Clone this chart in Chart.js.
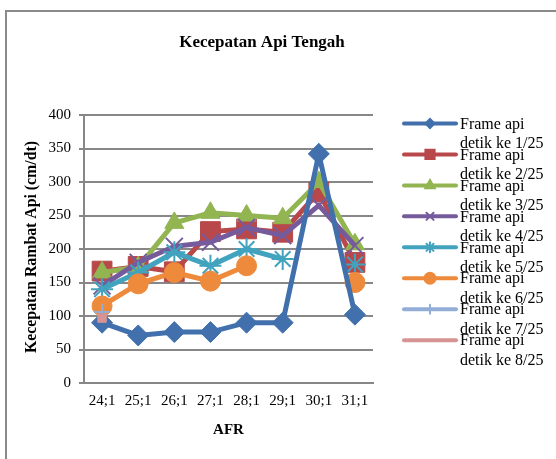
<!DOCTYPE html>
<html>
<head>
<meta charset="utf-8">
<script src="https://cdn.jsdelivr.net/npm/chart.js@4/dist/chart.umd.min.js"></script>
<style>
  html, body { margin: 0; padding: 0; background: #fff; }
  #wrap { position: relative; width: 556px; height: 459px; }
</style>
</head>
<body>
<div id="wrap"><canvas id="c" width="556" height="459"></canvas></div>
<script>
// ---- data ----
const categories = ['24;1', '25;1', '26;1', '27;1', '28;1', '29;1', '30;1', '31;1'];
const frame1 = [90, 71, 76, 76, 90, 90, 342, 102];
const frame2 = [167, 174, 166, 226, 230, 225, 285, 180];
const frame3 = [165, 173, 239, 254, 250, 246, 300, 207];
const frame4 = [145, 180, 204, 210, 232, 220, 265, 205];
const frame5 = [140, 165, 195, 175, 200, 185, null, 177];
const frame6 = [115, 148, 165, 152, 175, null, null, 150];
const frame7 = [106, null, null, null, null, null, null, null];
const frame8 = [97, null, null, null, null, null, null, null];
const seriesNames = [
  ['Frame api', 'detik ke 1/25'],
  ['Frame api', 'detik ke 2/25'],
  ['Frame api', 'detik ke 3/25'],
  ['Frame api', 'detik ke 4/25'],
  ['Frame api', 'detik ke 5/25'],
  ['Frame api', 'detik ke 6/25'],
  ['Frame api', 'detik ke 7/25'],
  ['Frame api', 'detik ke 8/25']
];
const yTicks = [0, 50, 100, 150, 200, 250, 300, 350, 400];
const chartTitle = 'Kecepatan Api Tengah';
const xTitle = 'AFR';
const yTitle = 'Kecepatan Rambat Api (cm/dt)';

// ---- styles ----
const FONT = "'Liberation Serif', 'Times New Roman', serif";
const colors = ['#4170AC', '#B9484A', '#92B552', '#765B9C', '#41A3BE', '#EE8A3B', '#93AED6', '#D69594'];
const shapes = ['rectRot', 'rect', 'triangle', 'crossRot', 'star', 'circle', 'cross', 'rect'];
const radii = [10.5, 14, 11, 12, 11, 10, 8, 6];
const legendRadii = [4.5, 6.5, 5.5, 5, 5, 5.5, 4.5, 0];
const orders = [0, 7, 6, 5, 4, 3, -1, -2];
const allData = [frame1, frame2, frame3, frame4, frame5, frame6, frame7, frame8];

const datasets = allData.map((d, i) => ({
  label: seriesNames[i].join(' '),
  data: d,
  borderColor: colors[i],
  backgroundColor: colors[i],
  borderWidth: 5,
  pointStyle: shapes[i],
  pointRadius: radii[i],
  pointBorderWidth: (shapes[i] === 'crossRot' || shapes[i] === 'star' || shapes[i] === 'cross') ? 2 : 1,
  pointBorderColor: colors[i],
  pointBackgroundColor: colors[i],
  tension: 0,
  spanGaps: false,
  order: orders[i]
}));

const decor = {
  id: 'decor',
  afterDraw(chart) {
    const ctx = chart.ctx;
    ctx.save();
    // outer frame (left & top only visible)
    ctx.fillStyle = '#8a8a8a';
    ctx.fillRect(5, 10, 2, 449);
    ctx.fillRect(5, 10, 551, 2);
    // title
    ctx.fillStyle = '#000';
    ctx.textAlign = 'center';
    ctx.textBaseline = 'middle';
    ctx.font = 'bold 17px ' + FONT;
    ctx.fillText(chartTitle, 262, 43);
    // x title
    ctx.font = 'bold 15px ' + FONT;
    const ca = chart.chartArea;
    ctx.fillText(xTitle, (ca.left + ca.right) / 2, 430);
    // y title
    ctx.save();
    ctx.translate(32, 247);
    ctx.rotate(-Math.PI / 2);
    ctx.font = 'bold 15.8px ' + FONT;
    ctx.fillText(yTitle, 0, 0);
    ctx.restore();
    // legend
    ctx.textAlign = 'left';
    ctx.font = '16px ' + FONT;
    for (let i = 0; i < seriesNames.length; i++) {
      const y = 123.5 + i * 30.95;
      ctx.strokeStyle = colors[i];
      ctx.lineWidth = 4;
      ctx.lineCap = 'round';
      ctx.beginPath();
      ctx.moveTo(404, y);
      ctx.lineTo(456, y);
      ctx.stroke();
      if (legendRadii[i] > 0 && Chart.helpers && Chart.helpers.drawPoint) {
        ctx.fillStyle = colors[i];
        ctx.strokeStyle = colors[i];
        ctx.lineWidth = 2;
        Chart.helpers.drawPoint(ctx, { pointStyle: shapes[i], radius: legendRadii[i], rotation: 0, borderWidth: 2 }, 430, y);
      }
      ctx.fillStyle = '#000';
      ctx.fillText(seriesNames[i][0], 460, y + 1);
      ctx.fillText(seriesNames[i][1], 460, y + 20.5);
    }
    ctx.restore();
  }
};

new Chart(document.getElementById('c'), {
  type: 'line',
  data: { labels: categories, datasets: datasets },
  options: {
    responsive: false,
    animation: false,
    layout: { padding: { top: 115, right: 183, left: 0, bottom: 0 } },
    plugins: { legend: { display: false }, title: { display: false }, tooltip: { enabled: false } },
    scales: {
      x: {
        offset: true,
        grid: { display: false, drawTicks: false },
        border: { display: true, color: '#878787', width: 2 },
        ticks: { color: '#000', font: { family: FONT, size: 15 }, padding: 9, maxRotation: 0, autoSkip: false },
        afterFit(s) { s.height = 76; }
      },
      y: {
        min: 0,
        max: 400,
        afterBuildTicks(s) { s.ticks = yTicks.map(v => ({ value: v })); },
        grid: { color: '#878787', lineWidth: 2, tickLength: 5, drawTicks: true },
        border: { display: true, color: '#878787', width: 2 },
        ticks: { color: '#000', font: { family: FONT, size: 15 }, padding: 8 },
        afterFit(s) { s.width = 84; }
      }
    }
  },
  plugins: [decor]
});
</script>
</body>
</html>
